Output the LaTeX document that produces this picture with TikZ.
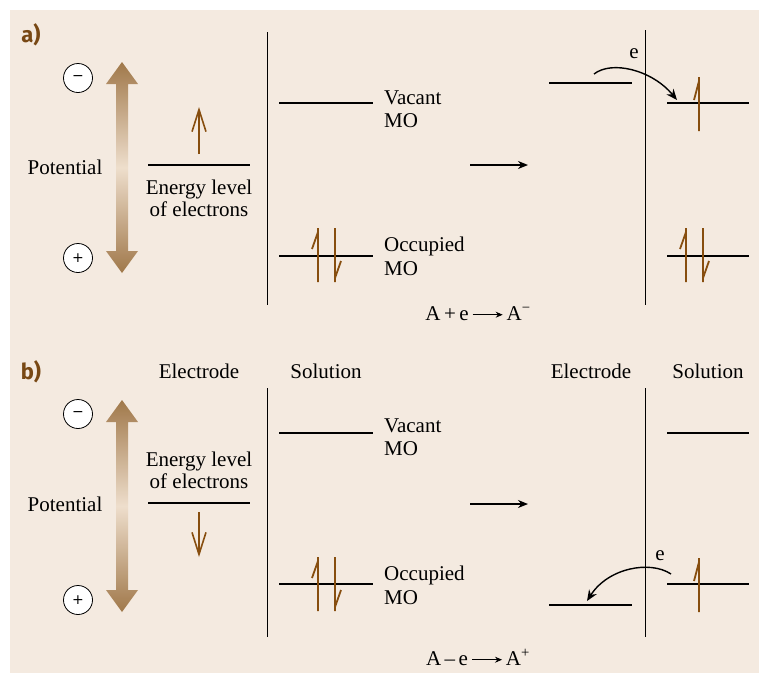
\documentclass[tikz,border=0pt]{standalone}
\usepackage{fontspec}
\setmainfont{Liberation Serif}
\newfontfamily\labfont{Fira Sans}
\newfontfamily\symfont{DejaVu Sans}
\usetikzlibrary{arrows.meta}
\definecolor{bg}{RGB}{244,234,224}
\definecolor{elec}{RGB}{135,78,15}
\definecolor{brw}{RGB}{160,120,74}
\definecolor{lbrw}{RGB}{238,222,204}
\definecolor{lab}{RGB}{120,72,20}
\newcommand{\eqarrow}{\raisebox{0.55ex}{\tikz[baseline]{\draw[-{Stealth[length=7pt,width=6pt]},line width=0.9pt] (0,0) -- (30pt,0);}}}
\begin{document}
\begin{tikzpicture}[x=1pt,y=-1pt,
  txt/.style={font=\fontsize{21}{24}\selectfont, inner sep=0pt},
  lev/.style={line width=1.6pt, black},
  sep/.style={line width=0.9pt, black},
  eup/.style={elec, line width=1.8pt, line cap=butt},
  pm/.style={circle, draw=black, line width=0.8pt, fill=white, minimum size=29pt, inner sep=0pt, font=\symfont\fontsize{14}{14}\selectfont},
  panel/.style={font=\labfont\bfseries\fontsize{22}{22}\selectfont, text=lab, inner sep=0pt},
  elarrow/.style={elec, line width=1.8pt, -{Straight Barb[length=22pt,width=14pt,line width=1.6pt]}},
  bigarrow/.style={-{Stealth[length=10pt,width=8pt]}, line width=1.4pt},
  curvearrow/.style={-{Stealth[length=11pt,width=9pt]}, line width=1.4pt}
]
\useasboundingbox (0,0) rectangle (759,673);
\fill[bg] (10,10) rectangle (759,673);

% ---------- helpers ----------
\newcommand{\updoubleharp}[3]{% x1, x2, ycenter: two electrons
  \draw[eup] (#1,#3+27) -- (#1,#3-27) (#1,#3-23) -- (#1-6,#3-6);
  \draw[eup] (#2,#3-27) -- (#2,#3+27) (#2,#3+23) -- (#2+6,#3+6);
}
\newcommand{\upharp}[2]{% x, ycenter
  \draw[eup] (#1,#2+27) -- (#1,#2-27) (#1,#2-23) -- (#1-5,#2-4);
}
\newcommand{\potarrow}[2]{% ytop, ybottom
  \shade[top color=brw, bottom color=brw, middle color=lbrw]
    (122,#1) -- (138,#1+22) -- (128,#1+22) -- (128,#2-22) -- (138,#2-22)
    -- (122,#2) -- (106,#2-22) -- (116,#2-22) -- (116,#1+22) -- (106,#1+22) -- cycle;
}

% ================= panel a =================
\node[panel] (la) at (31,35) {a)};
\node[pm] (minusa) at (78,78) {−};
\node[pm] (plusa) at (78,258) {+};
\potarrow{62}{273}
\node[txt] (pota) at (65,167) {Potential};

\draw[lev] (148,165) -- (250,165);
\coordinate (ea1) at (199,154);
\coordinate (ea2) at (199,107);
\draw[elarrow] (ea1) -- (ea2);
\node[txt, anchor=base] (ela1) at (199,194) {Energy level};
\node[txt, anchor=base] (ela2) at (199,216) {of electrons};

\draw[sep] (267,32) -- (267,305);

\draw[lev] (279,103) -- (373,103);
\node[txt, anchor=base west] (vaca) at (384,104) {Vacant};
\node[txt, anchor=base west] (vacamo) at (384,127) {MO};

\draw[lev] (279,256) -- (373,256);
\updoubleharp{318}{335}{255}
\node[txt, anchor=base west] (occa) at (384,251) {Occupied};
\node[txt, anchor=base west] (occamo) at (384,275) {MO};

\coordinate (ar1s) at (470,165);
\coordinate (ar1e) at (528,165);
\draw[bigarrow] (ar1s) -- (ar1e);

\draw[lev] (549,83) -- (632,83);
\draw[sep] (645,30) -- (645,305);
\draw[lev] (667,103) -- (749,103);
\upharp{699}{104}
\draw[lev] (667,256) -- (749,256);
\updoubleharp{686}{703}{255}

\coordinate (cas) at (594,74);
\coordinate (cae) at (677,100);
\draw[curvearrow] (cas) .. controls (612,60) and (652,70) .. (cae);
\node[txt, anchor=base] (ea) at (634,58) {e};

\node[txt, anchor=base] (eqa) at (478,320) {A\,+\,e\,\eqarrow\,A\textsuperscript{−}};

% ================= panel b =================
\node[panel] (lb) at (31,372) {b)};
\node[txt, anchor=base] (elb1) at (199,378) {Electrode};
\node[txt, anchor=base] (solb1) at (326,378) {Solution};
\node[txt, anchor=base] (elb2) at (591,378) {Electrode};
\node[txt, anchor=base] (solb2) at (708,378) {Solution};

\node[pm] (minusb) at (78,414) {−};
\node[pm] (plusb) at (78,600) {+};
\potarrow{400}{612}
\node[txt] (potb) at (65,504) {Potential};

\node[txt, anchor=base] (elv1) at (199,466) {Energy level};
\node[txt, anchor=base] (elv2) at (199,488) {of electrons};
\draw[lev] (148,503) -- (250,503);
\coordinate (eb1) at (199,512);
\coordinate (eb2) at (199,557);
\draw[elarrow] (eb1) -- (eb2);

\draw[sep] (267,388) -- (267,637);

\draw[lev] (279,433) -- (373,433);
\node[txt, anchor=base west] (vacb) at (384,432) {Vacant};
\node[txt, anchor=base west] (vacbmo) at (384,455) {MO};

\draw[lev] (279,584) -- (373,584);
\updoubleharp{318}{335}{584}
\node[txt, anchor=base west] (occb) at (384,580) {Occupied};
\node[txt, anchor=base west] (occbmo) at (384,604) {MO};

\coordinate (ar2s) at (470,504);
\coordinate (ar2e) at (528,504);
\draw[bigarrow] (ar2s) -- (ar2e);

\draw[sep] (645,388) -- (645,637);
\draw[lev] (667,433) -- (749,433);
\draw[lev] (667,584) -- (749,584);
\upharp{699}{585}
\draw[lev] (549,605) -- (632,605);

\coordinate (cbs) at (671,574);
\coordinate (cbe) at (587,601);
\draw[curvearrow] (cbs) .. controls (650,560) and (608,568) .. (cbe);
\node[txt, anchor=base] (eb) at (660,560) {e};

\node[txt, anchor=base] (eqb) at (478,665) {A\,–\,e\,\eqarrow\,A\textsuperscript{+}};
\end{tikzpicture}
\end{document}
